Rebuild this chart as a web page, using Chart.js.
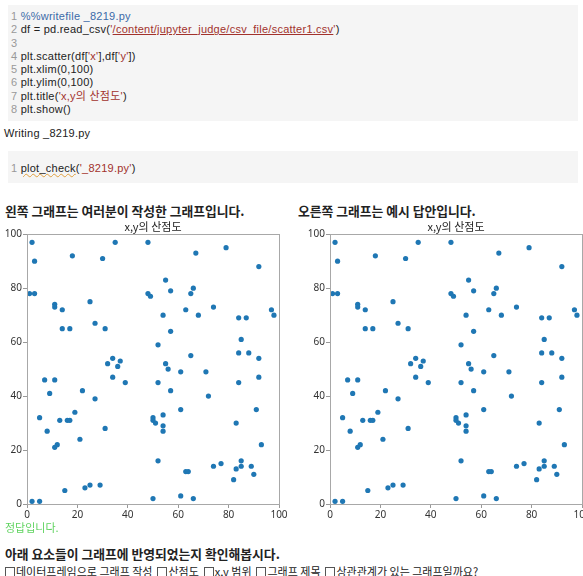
<!DOCTYPE html>
<html>
<head>
<meta charset="utf-8">
<script src="https://cdn.jsdelivr.net/npm/chart.js@4.4.1/dist/chart.umd.min.js"></script>
<style>
    body { margin: 0; width: 583px; height: 576px; overflow: hidden; background: #fff;
           font-family: "Noto Sans CJK KR", "Noto Sans", sans-serif; color: #222; position: relative; }
    .cell { position: absolute; left: 8px; width: 570px; background: #f5f5f5; }
    .code { font-family: "Liberation Sans", "Noto Sans CJK KR", sans-serif; font-size: 11px;
            line-height: 13.3px; white-space: pre; letter-spacing: 0.25px; }
    .ln { color: #999; }
    .mg { color: #3b6aa8; }
    .st { color: #a2322c; }
    .path { color: #a2322c; text-decoration: underline; }
    .wavy { text-decoration: underline wavy #e0a040; text-decoration-thickness: 1px; }
    .txt { position: absolute; white-space: nowrap; }
    .head { font-weight: bold; font-size: 12.8px; }
    .box { display: inline-block; width: 8px; height: 8px; border: 1px solid #555; margin: 0 1px 0 0; vertical-align: -1px; }
    canvas { position: absolute; }
</style>
</head>
<body>

<div class="cell" style="top:5px;height:116px;">
    <div class="code" style="position:absolute;left:3px;top:5px;"><span class="ln">1 </span><span class="mg">%%writefile _8219.py</span>
<span class="ln">2 </span>df = pd.read_csv(<span class="st">'</span><span class="path">/content/jupyter_judge/csv_file/scatter1.csv</span><span class="st">'</span>)
<span class="ln">3 </span>
<span class="ln">4 </span>plt.scatter(df[<span class="st">'x'</span>],df[<span class="st">'y'</span>])
<span class="ln">5 </span>plt.xlim(0,100)
<span class="ln">6 </span>plt.ylim(0,100)
<span class="ln">7 </span>plt.title(<span class="st">'x,y의 산점도'</span>)
<span class="ln">8 </span>plt.show()</div>
</div>

<div class="txt code" style="left:4px;top:127px;">Writing _8219.py</div>

<div class="cell" style="top:151px;height:32px;">
    <div class="code" style="position:absolute;left:3px;top:11px;"><span class="ln">1 </span><span class="wavy">plot_check</span>(<span class="st">'_8219.py'</span>)</div>
</div>

<div class="txt head" style="left:5px;top:201px;">왼쪽 그래프는 여러분이 작성한 그래프입니다.</div>
<div class="txt head" style="left:298px;top:201px;">오른쪽 그래프는 예시 답안입니다.</div>

<canvas id="leftChart" width="290" height="305" style="left:0;top:218px;"></canvas>
<canvas id="rightChart" width="290" height="305" style="left:303px;top:218px;"></canvas>

<div class="txt" style="left:5px;top:519px;font-size:11px;color:#5fd35f;">정답입니다.</div>
<div class="txt head" style="left:5px;top:544px;">아래 요소들이 그래프에 반영되었는지 확인해봅시다.</div>
<div class="txt" style="left:5px;top:563px;font-size:11px;">
    <span class="box"></span>데이터프레임으로 그래프 작성&nbsp;
    <span class="box"></span>산점도&nbsp;
    <span class="box"></span>x,y 범위&nbsp;
    <span class="box"></span>그래프 제목&nbsp;
    <span class="box"></span>상관관계가 있는 그래프일까요?
</div>

<script>
/* ---------- data (both plots show the same csv) ---------- */
const xVals = [2, 3, 1, 3, 11, 11, 14, 14, 17, 18,
               25, 27, 30, 31, 32, 34, 36, 37, 35, 34,
               48, 48, 49, 52, 54, 55, 57, 57, 55, 56,
               61, 63, 65, 66, 67, 68, 65, 71, 74, 79,
               84, 87, 85, 84, 88, 92, 92, 92, 97, 98,
               7, 11, 9, 5, 8, 13, 16, 17, 19, 22,
               27, 21, 11, 12, 31, 39, 15, 23, 25, 29,
               2, 5, 50, 50, 50, 51, 54, 54, 54, 52,
               57, 61, 52, 61, 66, 63, 64, 72, 74, 77,
               83, 84, 82, 83, 85, 85, 89, 90, 91, 93];
const yVals = [97, 90, 78, 78, 74, 73, 72, 65, 65, 92,
               75, 67, 91, 65, 52, 54, 51, 53, 97, 47,
               97, 78, 77, 59, 70, 83, 79, 64, 52, 50,
               49, 72, 78, 80, 93, 70, 55, 49, 73, 95,
               69, 69, 61, 56, 56, 88, 54, 47, 72, 70,
               46, 46, 41, 32, 27, 31, 31, 31, 34, 42,
               39, 24, 21, 22, 28, 45, 5, 6, 7, 7,
               1, 1, 2, 32, 31, 30, 33, 29, 27, 45,
               42, 35, 16, 3, 2, 12, 12, 40, 14, 15,
               30, 45, 9, 13, 16, 14, 14, 11, 35, 22];
const axisMin = 0;
const axisMax = 100;
const axisStep = 20;
const chartTitle = 'x,y의 산점도';

const points = xVals.map((x, i) => ({ x, y: yVals[i] }));

// matplotlib draws all four spines
const framePlugin = {
    id: 'frame',
    afterDraw(chart) {
        const { ctx, chartArea: a } = chart;
        ctx.save();
        ctx.strokeStyle = '#a8a8a8';
        ctx.lineWidth = 1;
        ctx.strokeRect(Math.round(a.left) + 0.5, Math.round(a.top) + 0.5,
                       Math.round(a.right - a.left), Math.round(a.bottom - a.top));
        ctx.restore();
    }
};

function axis(fitFn) {
    return {
        type: 'linear',
        min: axisMin,
        max: axisMax,
        ticks: { stepSize: axisStep, color: '#333', padding: 1,
                 font: { size: 10, family: '"Noto Sans", sans-serif' } },
        grid: { drawOnChartArea: false, drawTicks: true, tickLength: 4, color: '#999' },
        border: { display: true, color: '#a8a8a8' },
        afterFit: fitFn
    };
}

function drawScatter(id) {
    const ctx = document.getElementById(id).getContext('2d');
    return new Chart(ctx, {
        type: 'scatter',
        data: {
            datasets: [{
                data: points,
                backgroundColor: '#1f77b4',
                borderColor: '#1f77b4',
                pointRadius: 2.6,
                pointBorderWidth: 0
            }]
        },
        options: {
            responsive: false,
            animation: false,
            devicePixelRatio: 1,
            layout: { padding: { left: 0, right: 11, top: 0, bottom: 0 } },
            plugins: {
                legend: { display: false },
                tooltip: { enabled: false },
                title: {
                    display: true,
                    fullSize: false,
                    text: chartTitle,
                    color: '#222',
                    font: { size: 11, weight: 'normal', family: '"Noto Sans CJK KR", sans-serif', lineHeight: 1.2 },
                    padding: { top: 2, bottom: 1 }
                }
            },
            scales: {
                x: axis(s => { s.height = 19; }),
                y: axis(s => { s.width = 27; })
            }
        },
        plugins: [framePlugin]
    });
}

drawScatter('leftChart');
drawScatter('rightChart');
</script>
</body>
</html>
